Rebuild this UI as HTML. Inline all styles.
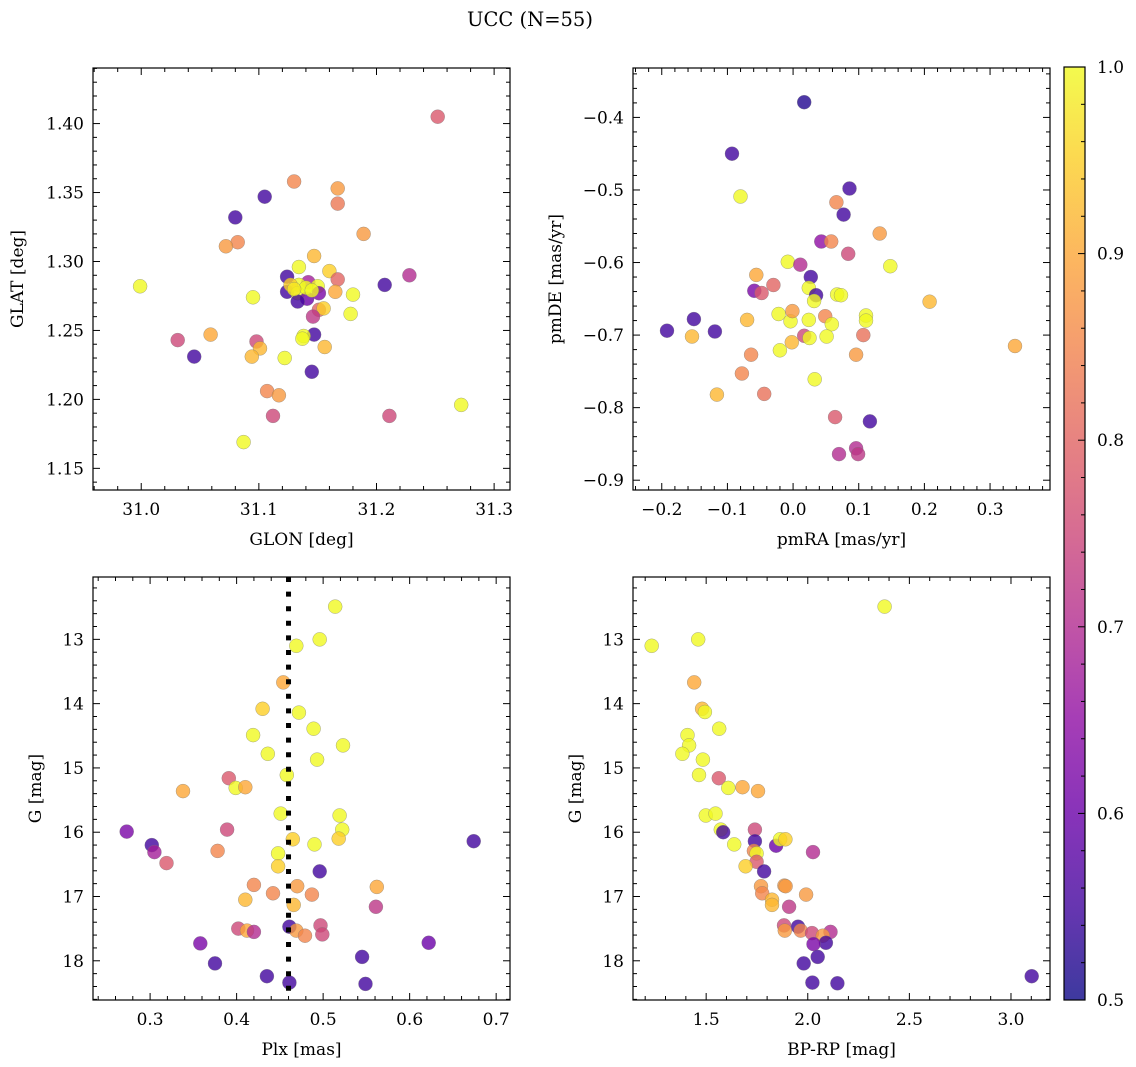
<!DOCTYPE html>
<html><head><meta charset="utf-8"><style>
html,body{margin:0;padding:0;background:#fff}
svg{display:block;font-family:"DejaVu Serif","Liberation Serif",serif}
</style></head><body>
<svg id="fig" width="1136" height="1067" viewBox="0 0 1136 1067" xmlns="http://www.w3.org/2000/svg">
<defs>
<linearGradient id="cbgrad" x1="0" y1="1" x2="0" y2="0">
<stop offset="0" stop-color="#0d0887"/><stop offset="0.1" stop-color="#41049d"/><stop offset="0.2" stop-color="#6a00a8"/><stop offset="0.3" stop-color="#8f0da4"/><stop offset="0.4" stop-color="#b12a90"/><stop offset="0.5" stop-color="#cc4778"/><stop offset="0.6" stop-color="#e16462"/><stop offset="0.7" stop-color="#f2844b"/><stop offset="0.8" stop-color="#fca636"/><stop offset="0.9" stop-color="#fcce25"/><stop offset="1" stop-color="#f0f921"/>
</linearGradient>
</defs>
<text x="530" y="26" font-size="19.5" text-anchor="middle">UCC (N=55)</text>
<g id="panels"></g>
<g>
<rect x="1064" y="67" width="21" height="933" fill="url(#cbgrad)" opacity="0.8"/>
<rect x="1064" y="67" width="21" height="933" fill="none" stroke="#000" stroke-width="1.2"/>
<g id="cbticks"></g>
</g>
</svg>
<script>
// ---- Panel 1: GLON vs GLAT ----
const glon = [31.252,31.130,31.167,31.167,31.105,31.080,31.189,31.082,31.072,31.147,31.134,31.160,31.167,31.228,31.207,30.999,31.124,31.142,31.124,31.134,31.127,31.150,31.133,31.151,31.165,31.180,31.095,31.141,31.133,31.178,31.151,31.155,31.146,31.147,31.138,31.137,31.156,31.031,31.059,31.098,31.101,31.094,31.122,31.045,31.145,31.107,31.117,31.272,31.112,31.211,31.087,31.140,31.130,31.145];
const glat = [1.405,1.358,1.353,1.342,1.347,1.332,1.320,1.314,1.311,1.304,1.296,1.293,1.287,1.290,1.283,1.282,1.289,1.285,1.278,1.283,1.283,1.282,1.277,1.277,1.278,1.276,1.274,1.273,1.271,1.262,1.265,1.266,1.260,1.247,1.246,1.244,1.238,1.243,1.247,1.242,1.237,1.231,1.230,1.231,1.220,1.206,1.203,1.196,1.188,1.188,1.169,1.281,1.280,1.279];
const prob1 = [0.78,0.85,0.88,0.83,0.55,0.55,0.88,0.85,0.88,0.92,1,0.95,0.8,0.7,0.55,1,0.55,0.68,0.55,1,0.95,1,1,0.62,0.9,1,1,0.6,0.55,1,0.8,0.95,0.72,0.55,1,1,0.92,0.75,0.9,0.75,0.92,0.92,1,0.55,0.55,0.85,0.88,1,0.75,0.75,1,1,0.98,1];
// ---- Panel 2: pmRA vs pmDE ----
const pmra = [0.017,-0.093,-0.080,0.086,0.066,0.077,0.132,0.043,0.058,0.084,-0.008,0.011,0.148,-0.056,0.027,0.024,-0.030,-0.059,-0.048,0.035,0.032,0.067,0.073,0.208,-0.192,-0.151,-0.119,-0.154,-0.070,-0.022,-0.004,0.024,-0.001,0.049,0.059,0.111,0.111,0.017,0.025,0.051,0.107,-0.002,0.338,-0.064,0.096,-0.020,-0.078,-0.116,-0.044,0.033,0.064,0.117,0.070,0.096,0.099];
const pmde = [-0.379,-0.450,-0.509,-0.498,-0.517,-0.534,-0.560,-0.571,-0.571,-0.588,-0.599,-0.603,-0.605,-0.617,-0.620,-0.635,-0.631,-0.639,-0.642,-0.645,-0.653,-0.644,-0.645,-0.654,-0.694,-0.678,-0.695,-0.702,-0.679,-0.671,-0.681,-0.679,-0.667,-0.674,-0.685,-0.673,-0.680,-0.701,-0.704,-0.702,-0.700,-0.710,-0.715,-0.727,-0.727,-0.721,-0.753,-0.782,-0.781,-0.761,-0.813,-0.819,-0.864,-0.856,-0.864];
const prob2 = [0.52,0.55,1,0.55,0.85,0.55,0.88,0.65,0.85,0.75,1,0.7,1,0.9,0.55,1,0.8,0.62,0.78,0.55,1,1,1,0.92,0.55,0.55,0.55,0.92,0.92,1,1,1,0.88,0.85,1,1,1,0.75,1,1,0.82,0.92,0.9,0.85,0.88,1,0.85,0.92,0.82,1,0.78,0.55,0.7,0.7,0.72];
// ---- Panel 3: Plx vs G ----
const plx = [0.514,0.496,0.469,0.454,0.430,0.472,0.489,0.419,0.523,0.436,0.493,0.458,0.391,0.399,0.410,0.338,0.451,0.519,0.522,0.518,0.273,0.389,0.674,0.302,0.305,0.319,0.465,0.490,0.378,0.448,0.448,0.496,0.420,0.470,0.562,0.442,0.487,0.410,0.466,0.561,0.402,0.412,0.420,0.461,0.469,0.479,0.497,0.499,0.358,0.622,0.375,0.545,0.435,0.461,0.549];
const gmag3 = [12.49,13.0,13.10,13.67,14.08,14.14,14.39,14.49,14.65,14.78,14.87,15.11,15.16,15.31,15.30,15.36,15.71,15.74,15.96,16.10,15.99,15.96,16.14,16.20,16.31,16.48,16.11,16.19,16.29,16.33,16.53,16.61,16.82,16.84,16.85,16.95,16.97,17.05,17.13,17.16,17.50,17.53,17.55,17.47,17.53,17.61,17.45,17.59,17.73,17.72,18.04,17.94,18.24,18.34,18.36];
const prob3 = [1,1,1,0.9,0.95,1,1,1,1,1,1,1,0.78,1,0.9,0.9,1,1,1,0.95,0.62,0.75,0.55,0.55,0.68,0.78,0.95,1,0.85,1,0.95,0.55,0.85,0.88,0.9,0.85,0.85,0.92,0.92,0.72,0.75,0.9,0.7,0.55,0.88,0.85,0.75,0.75,0.62,0.6,0.55,0.55,0.55,0.55,0.55];
const plxMedian = [0.460];
// ---- Panel 4: BP-RP vs G ----
const bprp = [2.378,1.232,1.461,1.441,1.480,1.494,1.564,1.408,1.416,1.383,1.484,1.465,1.562,1.609,1.679,1.755,1.498,1.546,1.572,1.584,1.740,1.740,1.638,1.844,1.864,1.890,2.026,1.735,1.748,1.748,1.694,1.785,1.885,1.891,1.770,1.992,1.776,1.824,1.824,1.908,1.883,1.952,1.887,1.965,2.021,2.112,2.074,2.089,2.028,2.049,1.980,2.023,2.146,3.102];
const gmag4 = [12.49,13.10,13.0,13.67,14.08,14.13,14.39,14.49,14.65,14.78,14.87,15.11,15.16,15.31,15.30,15.36,15.74,15.71,15.96,16.00,15.96,16.14,16.19,16.21,16.11,16.11,16.31,16.29,16.33,16.46,16.53,16.61,16.83,16.84,16.84,16.97,16.95,17.05,17.13,17.16,17.45,17.47,17.53,17.53,17.57,17.55,17.61,17.72,17.74,17.94,18.04,18.34,18.35,18.24];
const prob4 = [1,1,1,0.9,0.92,1,1,1,1,1,1,1,0.78,1,0.9,0.9,1,1,1,0.55,0.75,0.55,1,0.6,1,0.95,0.7,0.85,1,0.78,0.95,0.55,0.88,0.88,0.88,0.88,0.85,0.92,0.92,0.72,0.75,0.55,0.88,0.85,0.75,0.7,0.88,0.55,0.62,0.55,0.55,0.55,0.55,0.55];
const cbTicks = [0.5,0.6,0.7,0.8,0.9,1.0];

const NS = "http://www.w3.org/2000/svg";
const plasma = [[13,8,135],[65,4,157],[106,0,168],[143,13,164],[177,42,144],[204,71,120],[225,100,98],[242,132,75],[252,166,54],[252,206,37],[240,249,33]];
function cmap(p){
  let t=(p-0.5)/0.5; t=Math.max(0,Math.min(1,t));
  const f=t*(plasma.length-1), i=Math.min(plasma.length-2,Math.floor(f)), r=f-i;
  const c=plasma[i].map((v,k)=>Math.round(v+(plasma[i+1][k]-v)*r));
  return `rgb(${c[0]},${c[1]},${c[2]})`;
}
function mk(tag,attrs,parent){const e=document.createElementNS(NS,tag);for(const k in attrs)e.setAttribute(k,attrs[k]);parent.appendChild(e);return e;}
function fmt(v,d){const s=Math.abs(v).toFixed(d);return (v<-1e-9?"\u2212":"")+s;}

function panel(cfg){
  const g=mk("g",{},document.getElementById("panels"));
  
  
  const {x0,x1,y0,y1}=cfg.box;
  const sx=v=>x0+(v-cfg.xd[0])/(cfg.xd[1]-cfg.xd[0])*(x1-x0);
  const sy=v=>y0+(v-cfg.yd[0])/(cfg.yd[1]-cfg.yd[0])*(y1-y0);
  const pts=mk("g",{},g);
  
  
  const n=Math.min(cfg.xs.length,cfg.ys.length,cfg.cs.length);
  for(let i=0;i<n;i++){
    const c=mk("circle",{cx:sx(cfg.xs[i]).toFixed(1),cy:sy(cfg.ys[i]).toFixed(1),r:7,fill:cmap(cfg.cs[i]),"fill-opacity":0.8,stroke:"#777","stroke-width":0.4,"stroke-opacity":0.8},pts);
    
    
  }
  if(cfg.vline!==undefined){
    const l=mk("line",{x1:sx(cfg.vline),x2:sx(cfg.vline),y1:y0,y2:y1,stroke:"#000","stroke-width":5,"stroke-dasharray":"5 9.6"},g);
    
    
  }
  const tk=mk("g",{stroke:"#000","stroke-width":1},g);
  
  
  const lo=(a,b)=>Math.min(a,b), hi=(a,b)=>Math.max(a,b);
  const xa=lo(cfg.xd[0],cfg.xd[1]), xb=hi(cfg.xd[0],cfg.xd[1]);
  const ya=lo(cfg.yd[0],cfg.yd[1]), yb=hi(cfg.yd[0],cfg.yd[1]);
  for(let k=Math.ceil(xa/cfg.xmin-1e-6);k*cfg.xmin<=xb+1e-9;k++){
    const v=k*cfg.xmin, X=sx(v);
    const major=Math.abs(v/cfg.xmaj-Math.round(v/cfg.xmaj))<1e-6, L=major?7:4;
    mk("line",{x1:X,x2:X,y1:y1,y2:y1-L},tk); mk("line",{x1:X,x2:X,y1:y0,y2:y0+L},tk);
    if(major){const t=mk("text",{x:X,y:y1+25,"font-size":17,"text-anchor":"middle",stroke:"none",fill:"#000"},g);t.textContent=fmt(v,cfg.xdec);
      
      }
  }
  for(let k=Math.ceil(ya/cfg.ymin-1e-6);k*cfg.ymin<=yb+1e-9;k++){
    const v=k*cfg.ymin, Y=sy(v);
    const major=Math.abs(v/cfg.ymaj-Math.round(v/cfg.ymaj))<1e-6, L=major?7:4;
    mk("line",{x1:x0,x2:x0+L,y1:Y,y2:Y},tk); mk("line",{x1:x1,x2:x1-L,y1:Y,y2:Y},tk);
    if(major){const t=mk("text",{x:x0-9,y:Y+6,"font-size":17,"text-anchor":"end",stroke:"none",fill:"#000"},g);t.textContent=fmt(v,cfg.ydec);
      
      }
  }
  const fr=mk("rect",{x:x0,y:y0,width:x1-x0,height:y1-y0,fill:"none",stroke:"#000","stroke-width":1.2},g);
  
  
  const xl=mk("text",{x:(x0+x1)/2,y:y1+55,"font-size":17,"text-anchor":"middle"},g); xl.textContent=cfg.xlabel;
  
  
  const yx=cfg.ylabx, yc=(y0+y1)/2;
  const yl=mk("text",{x:yx,y:yc,"font-size":17,"text-anchor":"middle",transform:`rotate(-90 ${yx} ${yc})`},g); yl.textContent=cfg.ylabel;
  
  
}

panel({name:"glon-glat-panel",box:{x0:93,x1:510,y0:68,y1:490},xd:[30.959,31.3135],yd:[1.4403,1.1343],xs:glon,ys:glat,cs:prob1,xmaj:0.1,xmin:0.02,ymaj:0.05,ymin:0.01,xdec:1,ydec:2,xlabel:"GLON [deg]",ylabel:"GLAT [deg]",ylabx:23});
panel({name:"pm-panel",box:{x0:633,x1:1050,y0:68,y1:490},xd:[-0.2438,0.3913],yd:[-0.3319,-0.9135],xs:pmra,ys:pmde,cs:prob2,xmaj:0.1,xmin:0.02,ymaj:0.1,ymin:0.02,xdec:1,ydec:1,xlabel:"pmRA [mas/yr]",ylabel:"pmDE [mas/yr]",ylabx:561});
panel({name:"plx-g-panel",box:{x0:93,x1:510,y0:577,y1:1000},xd:[0.234,0.716],yd:[12.03,18.61],xs:plx,ys:gmag3,cs:prob3,xmaj:0.1,xmin:0.02,ymaj:1,ymin:0.2,xdec:1,ydec:0,xlabel:"Plx [mas]",ylabel:"G [mag]",ylabx:41,vline:plxMedian[0]});
panel({name:"cmd-panel",box:{x0:633,x1:1050,y0:577,y1:1000},xd:[1.140,3.192],yd:[12.03,18.61],xs:bprp,ys:gmag4,cs:prob4,xmaj:0.5,xmin:0.1,ymaj:1,ymin:0.2,xdec:1,ydec:0,xlabel:"BP-RP [mag]",ylabel:"G [mag]",ylabx:581});

(function(){
  const g=document.getElementById("cbticks");
  const sy=v=>1000-(v-0.5)/0.5*933;
  for(let k=25;k<=50;k++){
    const v=k*0.02, Y=sy(v), major=(k%5===0);
    mk("line",{x1:1085,x2:1085-(major?7:4),y1:Y,y2:Y,stroke:"#000","stroke-width":1},g);
  }
  cbTicks.forEach(v=>{
    const t=mk("text",{x:1097,y:sy(v)+6,"font-size":17},g); t.textContent=v.toFixed(1);
    
    
  });
})();
</script>
</body></html>
